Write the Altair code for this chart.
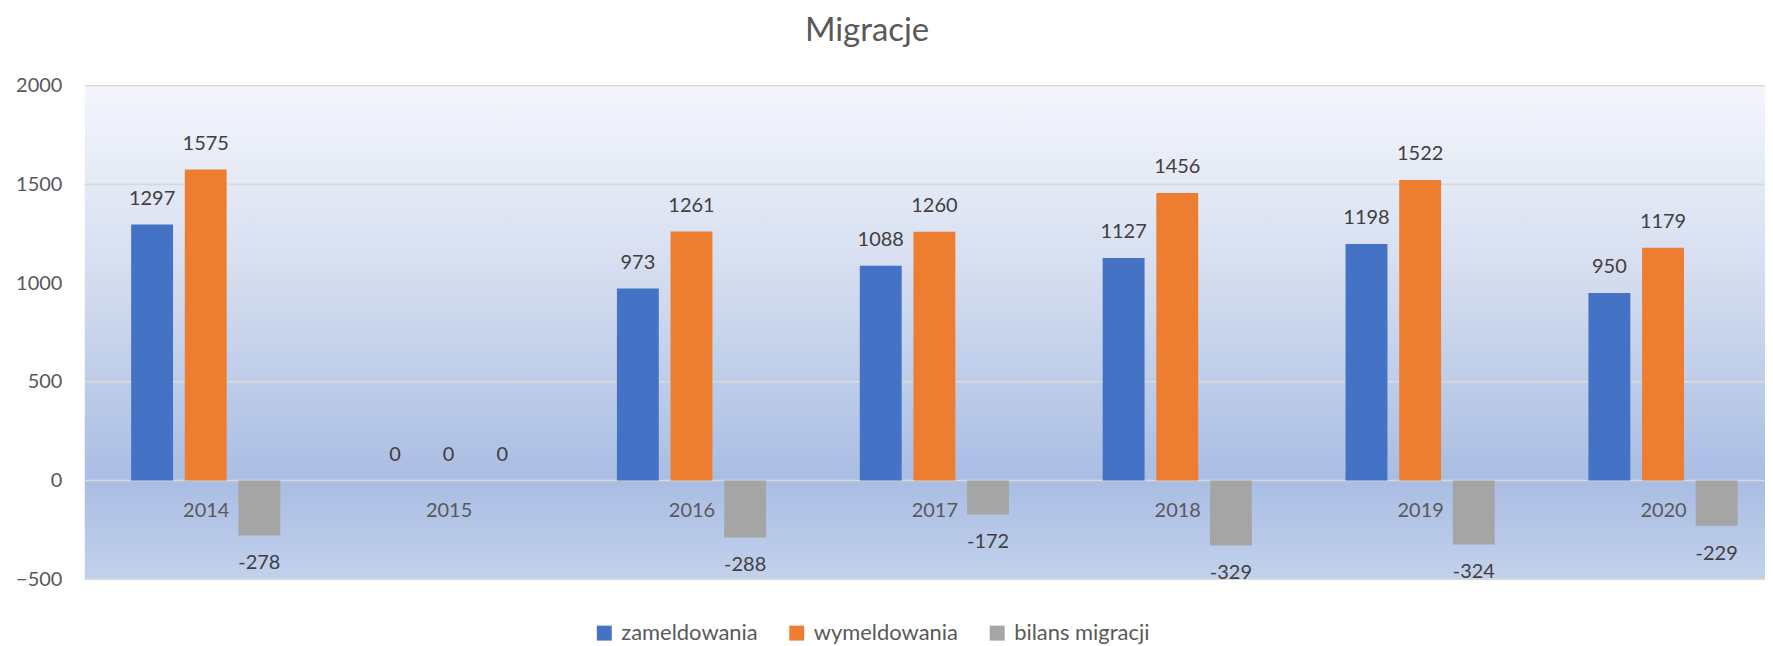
import altair as alt
import pandas as pd

years = ["2014", "2015", "2016", "2017", "2018", "2019", "2020"]
series = ["zameldowania", "wymeldowania", "bilans migracji"]
zameldowania = [1297, 0, 973, 1088, 1127, 1198, 950]
wymeldowania = [1575, 0, 1261, 1260, 1456, 1522, 1179]
bilans = [-278, 0, -288, -172, -329, -324, -229]
colors = ["#4472C4", "#ED7D31", "#A5A5A5"]
y_ticks = [-500, 0, 500, 1000, 1500, 2000]

rows = []
for vals, s in zip([zameldowania, wymeldowania, bilans], series):
    for y, v in zip(years, vals):
        rows.append({"year": y, "series": s, "value": v})
df = pd.DataFrame(rows)
grid_df = pd.DataFrame({"value": y_ticks})

W, H = 1685, 495
FONT = "Lato"

xs = alt.X("year:N", sort=years,
           scale=alt.Scale(domain=years, range=[0, 1705], paddingInner=0, paddingOuter=0),
           axis=alt.Axis(title=None, labelAngle=0, domain=False, ticks=False, tickSize=0,
                         labelPadding=0, labelBaseline="middle", offset=-69, zindex=1,
                         labelFont=FONT, labelFontSize=20, labelColor="#595959"))
xo = alt.XOffset("series:N", sort=series,
                 scale=alt.Scale(domain=series, range=[46.5, 196.1], paddingInner=0.219, paddingOuter=0))
y_axis = alt.Axis(title=None, values=y_ticks, format="d", grid=False, domain=False, ticks=False,
                  tickSize=0, labelPadding=23, labelFont=FONT, labelFontSize=20,
                  labelColor="#595959")
y_scale = alt.Scale(domain=[-500, 2000], nice=False, zero=False)
ys = alt.Y("value:Q", scale=y_scale, axis=y_axis)

bg = alt.Chart(pd.DataFrame({"a": [0]})).mark_rect(
    fill=alt.Gradient(gradient="linear", x1=0, y1=0, x2=0, y2=1,
                      stops=[alt.GradientStop(offset=0, color="#F4F6FC"),
                             alt.GradientStop(offset=0.4, color="#D3DCEF"),
                             alt.GradientStop(offset=0.8, color="#A9BDE3"),
                             alt.GradientStop(offset=1, color="#C3D1EC")])
).encode(x=alt.value(0), x2=alt.value(W), y=alt.value(0), y2=alt.value(H))

grid = alt.Chart(grid_df).mark_rule(color="#D9D9D9", strokeWidth=1.6).encode(y=ys)

bars = alt.Chart(df).mark_bar().encode(
    x=xs, xOffset=xo, y=ys,
    color=alt.Color("series:N", sort=series,
                    scale=alt.Scale(domain=series, range=colors),
                    legend=alt.Legend(orient="none", legendX=510, legendY=538,
                                      direction="horizontal", title=None,
                                      symbolType="square", symbolSize=225,
                                      symbolStrokeWidth=0, labelFont=FONT,
                                      labelFontSize=22, labelColor="#595959",
                                      columnPadding=28, labelOffset=6, padding=0))
)

base_lab = alt.Chart(df).transform_calculate(label="toString(datum.value)")

lab_pos = base_lab.transform_filter("datum.value >= 0").mark_text(
    font=FONT, fontSize=20, color="#404040", baseline="middle", dy=-26
).encode(x=xs, xOffset=xo, y=ys, text="label:N")

lab_neg = base_lab.transform_filter("datum.value < 0").mark_text(
    font=FONT, fontSize=20, color="#404040", baseline="middle", dy=28
).encode(x=xs, xOffset=xo, y=ys, text="label:N")

chart = alt.layer(bg, grid, bars, lab_pos, lab_neg).properties(
    width=W, height=H,
    title=alt.TitleParams("Migracje", font=FONT, fontSize=33, fontWeight="normal",
                          color="#595959", anchor="middle", frame="group",
                          baseline="middle", offset=12, dx=-58),
    autosize=alt.AutoSizeParams(type="none"),
    padding={"left": 77, "top": 77, "right": 0, "bottom": 66},
).configure_view(stroke=None)

chart.save("out.html", embed_options={"renderer": "svg", "actions": False})
